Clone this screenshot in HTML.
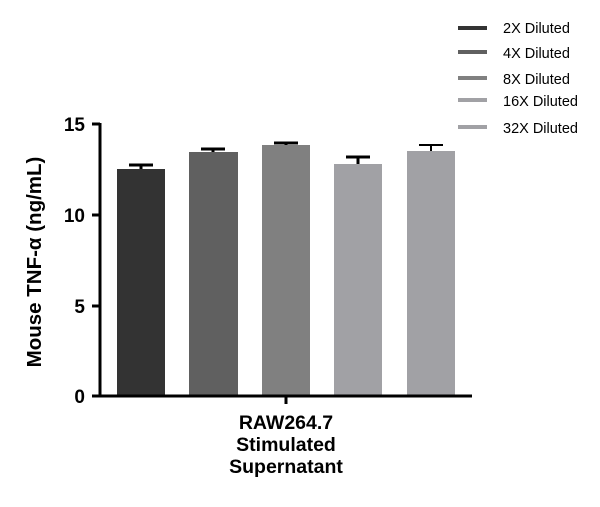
<!DOCTYPE html>
<html><head><style>body{margin:0;background:#fff}</style></head><body>
<svg width="600" height="502" xmlns="http://www.w3.org/2000/svg" font-family="Liberation Sans, sans-serif">
<rect width="600" height="502" fill="#fff"/>
<g fill="none" stroke="#000" stroke-width="3">
<path d="M141 165V170M129 165H153"/>
<path d="M213 149V153M201 149H225"/>
<path d="M286 143V146M274 143H298"/>
<path d="M358 157V165M346 157H370"/>
<path d="M431 145V152M419 145H443" stroke-width="2"/>
</g>
<rect x="117" y="169" width="48" height="227" fill="#333333"/>
<rect x="189" y="152" width="49" height="244" fill="#606060"/>
<rect x="262" y="145" width="48" height="251" fill="#808080"/>
<rect x="334" y="164" width="48" height="232" fill="#a1a1a5"/>
<rect x="407" y="151" width="48" height="245" fill="#a1a1a5"/>
<g stroke="#000" stroke-width="3" fill="none">
<path d="M100 123V397H100M92 124H100M92 215H100M92 306H100M92 396H472M286 396V404"/>
</g>
<g font-size="19" font-weight="bold" text-anchor="end">
<text x="85" y="131">15</text><text x="85" y="222">10</text><text x="85" y="313">5</text><text x="85" y="403">0</text>
</g>
<text transform="translate(41 262) rotate(-90)" font-size="20.5" font-weight="bold" text-anchor="middle">Mouse TNF-α (ng/mL)</text>
<g font-size="19.5" font-weight="bold" text-anchor="middle">
<text x="286" y="429">RAW264.7</text><text x="286" y="451">Stimulated</text><text x="286" y="473">Supernatant</text>
</g>
<rect x="458" y="26" width="29" height="4" fill="#333333"/>
<rect x="458" y="50" width="29" height="4" fill="#606060"/>
<rect x="458" y="76" width="29" height="4" fill="#808080"/>
<rect x="458" y="98" width="29" height="4" fill="#a1a1a5"/>
<rect x="458" y="125" width="29" height="4" fill="#a1a1a5"/>
<g font-size="14.5">
<text x="503" y="33">2X Diluted</text><text x="503" y="58">4X Diluted</text><text x="503" y="84">8X Diluted</text><text x="503" y="106">16X Diluted</text><text x="503" y="133">32X Diluted</text>
</g>
</svg>
</body></html>
